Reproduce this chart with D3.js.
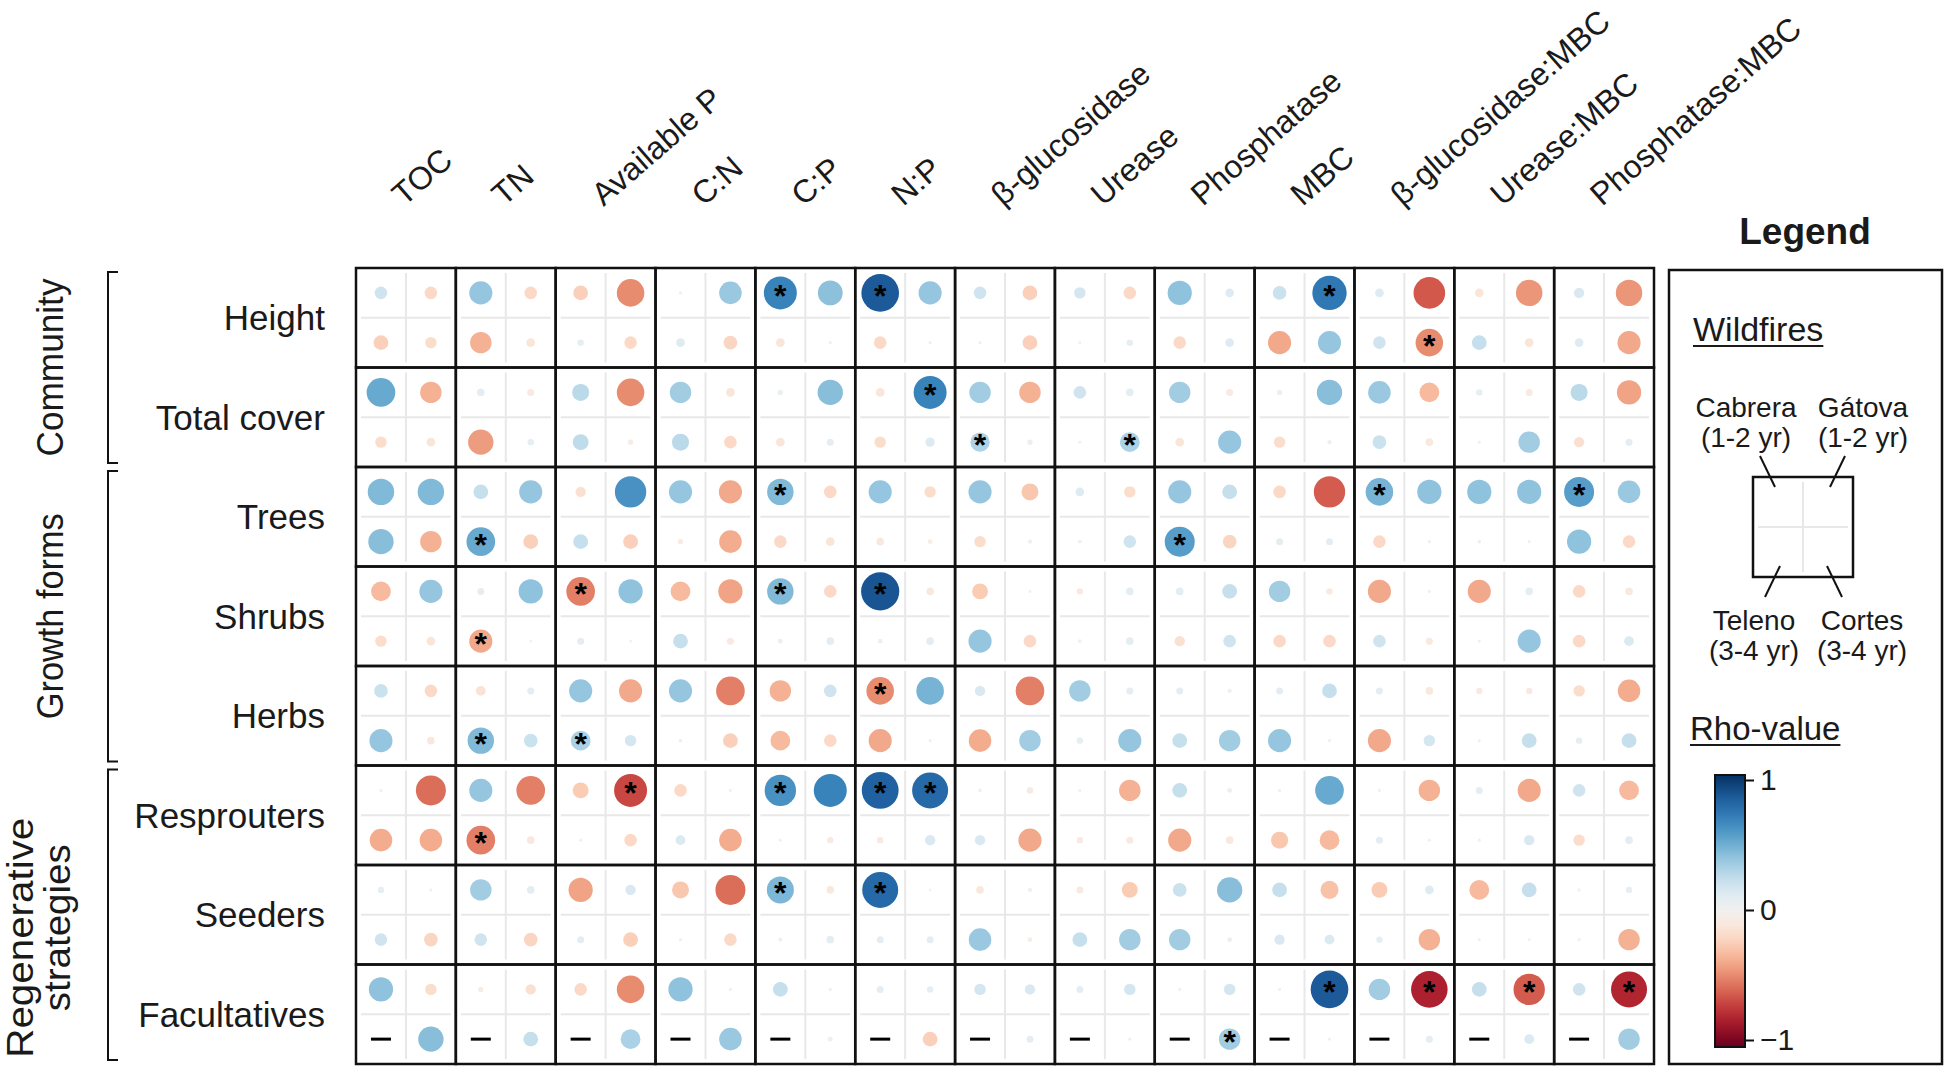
<!DOCTYPE html>
<html>
<head>
<meta charset="utf-8">
<script src="https://cdn.jsdelivr.net/npm/d3@7"></script>
<style>
  body { margin: 0; background: #fff; }
  text { font-family: "Liberation Sans", Arial, sans-serif; fill: #1a1a1a; }
</style>
</head>
<body>
<div id="chart-container"></div>
<script>
// DATA ------------------------------------
const variables = ['TOC', 'TN', 'Available P', 'C:N', 'C:P', 'N:P', 'β-glucosidase', 'Urease',
  'Phosphatase', 'MBC', 'β-glucosidase:MBC', 'Urease:MBC', 'Phosphatase:MBC'];
const plantMetrics = ['Height', 'Total cover', 'Trees', 'Shrubs', 'Herbs', 'Resprouters', 'Seeders', 'Facultatives'];
const sites = ['Cabrera', 'Gátova', 'Teleno', 'Cortes'];
const siteAges = ['(1-2 yr)', '(1-2 yr)', '(3-4 yr)', '(3-4 yr)'];

// rho per site: one row per plant metric, one value per soil variable
const rhoCabrera = [
  [0.19, 0.38, -0.23, 0.02, 0.67, 0.84, 0.19, 0.17, 0.4, 0.21, 0.12, -0.12, 0.15],
  [0.51, 0.1, 0.27, 0.35, 0.06, -0.12, 0.35, 0.19, 0.35, 0.06, 0.37, 0.08, 0.27],
  [0.44, 0.23, -0.15, 0.38, 0.44, 0.38, 0.38, 0.12, 0.38, -0.19, 0.47, 0.4, 0.56],
  [-0.32, 0.09, -0.51, -0.32, 0.44, 0.86, -0.25, -0.08, 0.1, 0.35, -0.38, -0.38, -0.19],
  [0.21, -0.14, 0.38, 0.38, -0.35, -0.47, 0.15, 0.35, 0.09, 0.09, 0.09, -0.08, -0.17],
  [0.02, 0.38, -0.25, -0.19, 0.61, 0.81, -0.03, 0.02, 0.23, 0.02, 0.02, 0.09, 0.19],
  [0.08, 0.35, -0.4, -0.27, 0.45, 0.78, -0.1, -0.09, 0.21, 0.23, -0.25, -0.32, 0.02],
  [0.4, -0.06, -0.19, 0.4, 0.23, 0.09, 0.17, 0.09, -0.02, -0.02, 0.35, 0.23, 0.19]
];
const rhoGatova = [
  [-0.19, -0.19, -0.47, 0.37, 0.41, 0.38, -0.23, -0.19, 0.12, 0.72, -0.62, -0.44, -0.44],
  [-0.35, -0.09, -0.47, -0.12, 0.42, 0.67, -0.35, 0.1, -0.09, 0.42, -0.32, -0.09, -0.4],
  [0.44, 0.38, 0.61, -0.38, -0.19, -0.17, -0.27, -0.17, 0.23, -0.61, 0.4, 0.4, 0.37],
  [0.38, 0.4, 0.4, -0.4, -0.19, -0.1, 0.02, 0.1, 0.23, -0.08, 0.02, 0.1, -0.1],
  [-0.19, 0.09, -0.38, -0.51, 0.19, 0.47, -0.51, 0.09, -0.04, 0.23, -0.1, -0.08, -0.37],
  [-0.56, -0.51, -0.67, 0.02, 0.67, 0.78, -0.08, -0.35, 0.05, 0.51, -0.35, -0.38, -0.32],
  [0.02, 0.1, 0.15, -0.56, -0.1, 0.01, 0.04, -0.25, 0.42, -0.29, 0.12, 0.23, 0.08],
  [-0.17, -0.15, -0.47, -0.02, 0.02, 0.08, 0.15, 0.17, 0.17, 0.84, -0.8, -0.61, -0.78]
];
const rhoTeleno = [
  [-0.23, -0.35, 0.08, 0.12, -0.12, -0.19, 0.02, 0.02, -0.19, -0.38, 0.19, 0.23, 0.12],
  [-0.17, -0.42, 0.25, 0.27, -0.12, -0.17, 0.31, 0.02, -0.12, -0.17, 0.21, 0.02, -0.15],
  [0.42, 0.51, 0.23, -0.06, -0.19, -0.1, -0.17, 0.03, 0.56, 0.09, -0.19, 0.03, 0.4],
  [-0.17, -0.38, 0.09, 0.23, 0.05, -0.05, 0.38, -0.03, -0.15, -0.19, 0.19, -0.02, -0.19],
  [0.38, 0.44, 0.32, 0.03, -0.32, -0.38, -0.37, 0.08, 0.23, 0.38, -0.38, -0.02, 0.08],
  [-0.37, -0.51, -0.02, 0.14, 0.02, -0.08, 0.15, -0.08, -0.38, -0.27, 0.09, 0.02, -0.17],
  [0.19, 0.19, 0.09, 0.02, 0.04, 0.09, 0.37, 0.23, 0.35, 0.15, 0.08, 0.02, 0.02],
  [null, null, null, null, null, null, null, null, null, null, null, null, null]
];
const rhoCortes = [
  [-0.17, -0.12, -0.19, -0.21, -0.02, 0.02, -0.23, 0.08, 0.12, 0.38, -0.47, -0.12, -0.38],
  [-0.12, 0.08, -0.06, -0.19, 0.09, 0.13, 0.06, 0.32, 0.38, 0.04, -0.1, 0.35, 0.09],
  [-0.35, -0.23, -0.23, -0.37, -0.12, -0.05, 0.04, 0.19, -0.21, 0.09, 0.02, -0.02, -0.19],
  [-0.12, 0.01, 0.01, -0.09, 0.1, 0.1, -0.19, 0.1, 0.19, -0.19, -0.09, 0.38, 0.14],
  [-0.1, 0.21, 0.17, -0.23, -0.19, 0.02, 0.35, 0.38, 0.35, 0.02, 0.17, 0.23, 0.23],
  [-0.37, -0.1, -0.19, -0.37, -0.08, 0.15, -0.38, -0.09, -0.1, -0.32, -0.02, 0.15, 0.1],
  [-0.21, -0.21, -0.23, -0.19, 0.1, 0.09, -0.05, 0.35, 0.05, 0.14, -0.35, 0.01, -0.35],
  [0.42, 0.23, 0.32, 0.37, -0.05, -0.23, 0.09, 0.02, 0.35, 0.02, 0.09, 0.14, 0.35]
];

// significant correlations: [plant metric, soil variable, site]
const significant = [
  ['Height', 'C:P', 'Cabrera'], ['Height', 'N:P', 'Cabrera'], ['Height', 'MBC', 'Gátova'],
  ['Height', 'β-glucosidase:MBC', 'Cortes'],
  ['Total cover', 'N:P', 'Gátova'], ['Total cover', 'β-glucosidase', 'Teleno'], ['Total cover', 'Urease', 'Cortes'],
  ['Trees', 'TN', 'Teleno'], ['Trees', 'C:P', 'Cabrera'], ['Trees', 'Phosphatase', 'Teleno'],
  ['Trees', 'β-glucosidase:MBC', 'Cabrera'], ['Trees', 'Phosphatase:MBC', 'Cabrera'],
  ['Shrubs', 'TN', 'Teleno'], ['Shrubs', 'Available P', 'Cabrera'], ['Shrubs', 'C:P', 'Cabrera'], ['Shrubs', 'N:P', 'Cabrera'],
  ['Herbs', 'TN', 'Teleno'], ['Herbs', 'Available P', 'Teleno'], ['Herbs', 'N:P', 'Cabrera'],
  ['Resprouters', 'TN', 'Teleno'], ['Resprouters', 'Available P', 'Gátova'], ['Resprouters', 'C:P', 'Cabrera'],
  ['Resprouters', 'N:P', 'Cabrera'], ['Resprouters', 'N:P', 'Gátova'],
  ['Seeders', 'C:P', 'Cabrera'], ['Seeders', 'N:P', 'Cabrera'],
  ['Facultatives', 'Phosphatase', 'Cortes'], ['Facultatives', 'MBC', 'Gátova'],
  ['Facultatives', 'β-glucosidase:MBC', 'Gátova'], ['Facultatives', 'Urease:MBC', 'Gátova'],
  ['Facultatives', 'Phosphatase:MBC', 'Gátova']
];

const groupNames = [['Community'], ['Growth forms'], ['Regenerative', 'strategies']];
const groupFirst = ['Height', 'Trees', 'Resprouters'];
const groupLast = ['Total cover', 'Herbs', 'Facultatives'];
const rhoTicks = [-1, 0, 1];

// CHART INIT ------------------------------
const W = 1946, H = 1068;
const svg = d3.select('#chart-container').append('svg')
  .attr('width', W).attr('height', H)
  .style('display', 'block');
svg.append('rect').attr('width', W).attr('height', H).attr('fill', '#fff');

const grid = { left: 356, right: 1654, top: 268, bottom: 1064 };
const x = d3.scaleBand().domain(variables).range([grid.left, grid.right]);
const y = d3.scaleBand().domain(plantMetrics).range([grid.top, grid.bottom]);
const sx = d3.scaleBand().domain([0, 1]).range([0, x.bandwidth()]);
const sy = d3.scaleBand().domain([0, 1]).range([0, y.bandwidth()]);
const radius = d3.scaleLinear().domain([0, 0.45, 1]).range([1, 13.5, 21]);
const color = d3.scaleSequential(d3.interpolateRdBu).domain([-1, 1]);

const rhoBySite = [rhoCabrera, rhoGatova, rhoTeleno, rhoCortes];
const sigKey = new Set(significant.map(d => d.join('|')));
const points = [];
plantMetrics.forEach((row, ri) => {
  variables.forEach((col, ci) => {
    sites.forEach((site, si) => {
      points.push({
        row, col, site,
        rho: rhoBySite[si][ri][ci],
        sig: sigKey.has([row, col, site].join('|')),
        cx: x(col) + sx(si % 2) + sx.bandwidth() / 2,
        cy: y(row) + sy(Math.floor(si / 2)) + sy.bandwidth() / 2
      });
    });
  });
});

// CELLS -----------------------------------
const cells = svg.append('g');
const cellList = d3.cross(plantMetrics, variables);
const inset = 5;
cells.selectAll('.vgrid').data(cellList).enter().append('line')
  .attr('x1', d => x(d[1]) + x.bandwidth() / 2).attr('x2', d => x(d[1]) + x.bandwidth() / 2)
  .attr('y1', d => y(d[0]) + inset).attr('y2', d => y(d[0]) + y.bandwidth() - inset)
  .attr('stroke', '#e8e8e8').attr('stroke-width', 2);
cells.selectAll('.hgrid').data(cellList).enter().append('line')
  .attr('x1', d => x(d[1]) + inset).attr('x2', d => x(d[1]) + x.bandwidth() - inset)
  .attr('y1', d => y(d[0]) + y.bandwidth() / 2).attr('y2', d => y(d[0]) + y.bandwidth() / 2)
  .attr('stroke', '#e8e8e8').attr('stroke-width', 2);
cells.selectAll('.cell').data(cellList).enter().append('rect')
  .attr('x', d => x(d[1])).attr('y', d => y(d[0]))
  .attr('width', x.bandwidth()).attr('height', y.bandwidth())
  .attr('fill', 'none').attr('stroke', '#111').attr('stroke-width', 2.5);

// POINTS ----------------------------------
const marks = svg.append('g');
marks.selectAll('circle').data(points.filter(d => d.rho !== null)).enter().append('circle')
  .attr('cx', d => d.cx).attr('cy', d => d.cy)
  .attr('r', d => radius(Math.abs(d.rho)))
  .attr('fill', d => color(d.rho));
marks.selectAll('.star').data(points.filter(d => d.sig)).enter().append('text')
  .attr('x', d => d.cx).attr('y', d => d.cy + 14)
  .attr('text-anchor', 'middle')
  .style('font-size', '32px').style('font-weight', 'bold').style('fill', '#000')
  .text('*');
marks.selectAll('.missing').data(points.filter(d => d.rho === null)).enter().append('line')
  .attr('x1', d => d.cx - 10).attr('x2', d => d.cx + 10)
  .attr('y1', d => d.cy).attr('y2', d => d.cy)
  .attr('stroke', '#000').attr('stroke-width', 3);

// LABELS ----------------------------------
svg.append('g').selectAll('text').data(variables).enter().append('text')
  .attr('transform', d => `translate(${x(d) + x.bandwidth() / 2 - 2},207) rotate(-41)`)
  .style('font-size', '32px')
  .text(d => d);

svg.append('g').selectAll('text').data(plantMetrics).enter().append('text')
  .attr('x', 325).attr('y', d => y(d) + y.bandwidth() / 2)
  .attr('dy', '0.36em').attr('text-anchor', 'end')
  .style('font-size', '35px')
  .text(d => d);

// group brackets and rotated names
const groupsG = svg.append('g');
const lens = { 'Community': 178, 'Growth forms': 206, 'Regenerative': 240, 'strategies': 167 };
groupNames.forEach((lines, gi) => {
  const y0 = y(groupFirst[gi]) + 4;
  const y1 = y(groupLast[gi]) + y.bandwidth() - 4;
  groupsG.append('path')
    .attr('d', `M118,${y0}H108V${y1}H118`)
    .attr('fill', 'none').attr('stroke', '#111').attr('stroke-width', 2);
  const cy = (y0 + y1) / 2;
  const bases = lines.length === 1 ? [63] : [33, 70];
  const shifts = lines.length === 1 ? [0] : [23, 13];
  lines.forEach((t, li) => {
    groupsG.append('text')
      .attr('transform', `translate(${bases[li]},${cy + shifts[li]}) rotate(-90)`)
      .attr('text-anchor', 'middle')
      .attr('textLength', lens[t]).attr('lengthAdjust', 'spacingAndGlyphs')
      .style('font-size', '37px')
      .text(t);
  });
});

// LEGEND ----------------------------------
const lg = svg.append('g');
lg.append('text').attr('x', 1805).attr('y', 244).attr('text-anchor', 'middle')
  .style('font-size', '37px').style('font-weight', 'bold').text('Legend');
lg.append('rect').attr('x', 1669).attr('y', 270).attr('width', 273).attr('height', 794)
  .attr('fill', 'none').attr('stroke', '#111').attr('stroke-width', 2.5);

function underlined(label, x0, base, size) {
  const t = lg.append('text').attr('x', x0).attr('y', base).style('font-size', size + 'px').text(label);
  const w = t.node().getComputedTextLength();
  lg.append('line').attr('x1', x0).attr('x2', x0 + w).attr('y1', base + 5).attr('y2', base + 5)
    .attr('stroke', '#1a1a1a').attr('stroke-width', 2);
}
underlined('Wildfires', 1693, 341, 34);
underlined('Rho-value', 1690, 740, 33);

// site key square
const key = { x: 1753, y: 477, s: 100 };
lg.append('line').attr('x1', key.x + key.s / 2).attr('x2', key.x + key.s / 2)
  .attr('y1', key.y + 5).attr('y2', key.y + key.s - 5).attr('stroke', '#e8e8e8').attr('stroke-width', 2);
lg.append('line').attr('x1', key.x + 5).attr('x2', key.x + key.s - 5)
  .attr('y1', key.y + key.s / 2).attr('y2', key.y + key.s / 2).attr('stroke', '#e8e8e8').attr('stroke-width', 2);
lg.append('rect').attr('x', key.x).attr('y', key.y).attr('width', key.s).attr('height', key.s)
  .attr('fill', 'none').attr('stroke', '#111').attr('stroke-width', 2.5);

const keyLabelX = [1746, 1863, 1754, 1862];
const keyLabelY = [417, 417, 630, 630];
const leaders = [[1760, 456, 1775, 487], [1845, 456, 1830, 487], [1780, 566, 1765, 597], [1827, 566, 1842, 597]];
sites.forEach((s, i) => {
  lg.append('text').attr('x', keyLabelX[i]).attr('y', keyLabelY[i]).attr('text-anchor', 'middle')
    .style('font-size', '28px').text(s);
  lg.append('text').attr('x', keyLabelX[i]).attr('y', keyLabelY[i] + 30).attr('text-anchor', 'middle')
    .style('font-size', '28px').text(siteAges[i]);
  const l = leaders[i];
  lg.append('line').attr('x1', l[0]).attr('y1', l[1]).attr('x2', l[2]).attr('y2', l[3])
    .attr('stroke', '#111').attr('stroke-width', 2);
});

// colour bar
const defs = svg.append('defs');
const grad = defs.append('linearGradient').attr('id', 'rho-grad')
  .attr('x1', 0).attr('y1', 1).attr('x2', 0).attr('y2', 0);
d3.range(0, 1.0001, 0.05).forEach(t => {
  grad.append('stop').attr('offset', t).attr('stop-color', d3.interpolateRdBu(t));
});
const barScale = d3.scaleLinear().domain([-1, 1]).range([1040, 780]);
lg.append('rect').attr('x', 1715).attr('y', 775).attr('width', 30).attr('height', 272)
  .attr('fill', 'url(#rho-grad)').attr('stroke', '#111').attr('stroke-width', 2);
const barAxis = lg.append('g').attr('transform', 'translate(1745,0)')
  .call(d3.axisRight(barScale).tickValues(rhoTicks).tickFormat(d3.format('d')).tickSize(9).tickPadding(6));
barAxis.select('.domain').remove();
barAxis.selectAll('line').attr('stroke', '#111').attr('stroke-width', 2);
barAxis.selectAll('text').style('font-size', '30px').style('font-family', '"Liberation Sans", Arial, sans-serif')
  .attr('fill', '#1a1a1a');
</script>
</body>
</html>
